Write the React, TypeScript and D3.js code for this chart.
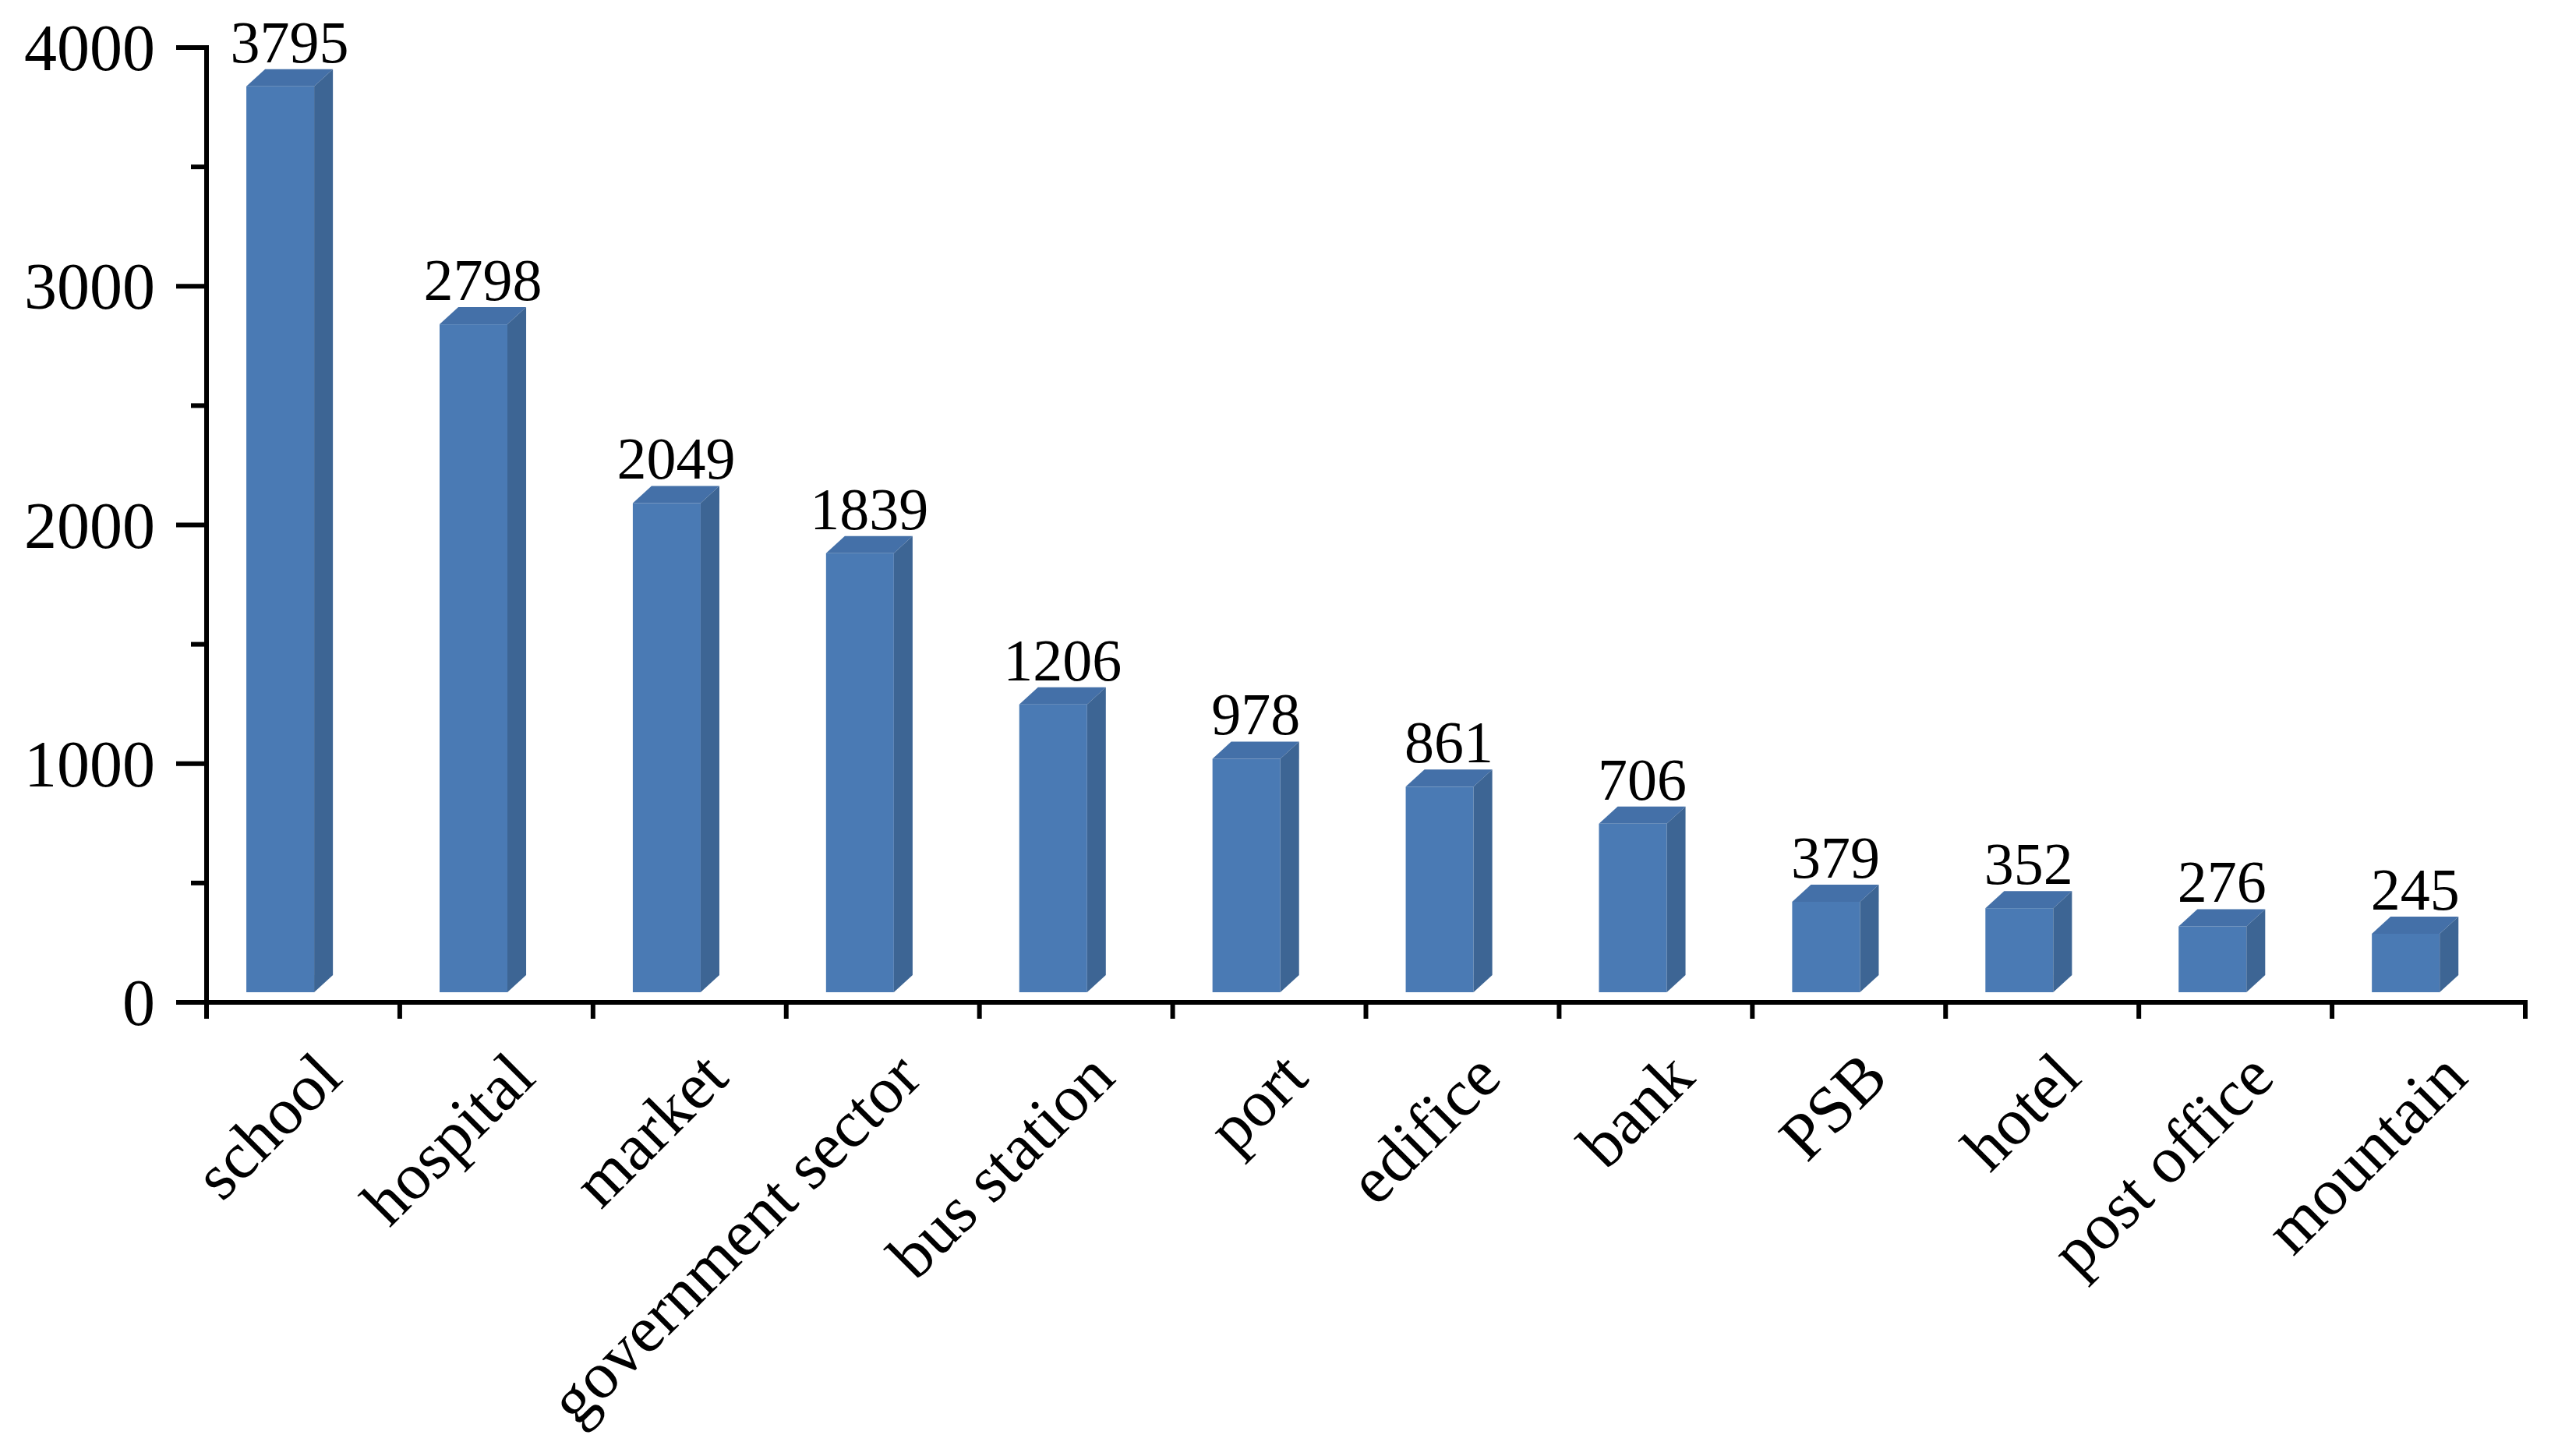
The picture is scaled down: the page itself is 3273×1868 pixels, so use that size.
import { useRef, useEffect } from 'react';
import * as d3 from 'd3';

const categories = [
  'school', 'hospital', 'market', 'government sector', 'bus station', 'port',
  'edifice', 'bank', 'PSB', 'hotel', 'post office', 'mountain',
];
const counts = [3795, 2798, 2049, 1839, 1206, 978, 861, 706, 379, 352, 276, 245];
const yTicks = [0, 1000, 2000, 3000, 4000];
const yMinorTicks = [500, 1500, 2500, 3500];

const W = 3273;
const H = 1868;

const App = () => {
  const svgRef = useRef<SVGSVGElement>(null);

  useEffect(() => {
    document.body.style.margin = '0';

    const svg = d3.select(svgRef.current)
      .attr('width', W)
      .attr('height', H);

    svg.selectAll('*').remove();

    const font = '"Liberation Serif", "Times New Roman", serif';
    const axisLeft = 265;
    const axisRight = 3240;

    const xScale = d3.scaleBand()
      .domain(categories)
      .range([axisLeft, axisRight])
      .padding(0);

    const yScale = d3.scaleLinear()
      .domain([0, 4000])
      .range([1286, 61]);

    const bw = xScale.bandwidth();
    const faceOffset = bw * 0.206;
    const faceWidth = bw * 0.351;
    const depthX = bw * 0.097;
    const depthY = 22;
    const lift = 13; // bars float slightly above the axis line

    const data = categories.map((c, i) => ({ category: c, value: counts[i] }));

    // bars drawn as simple 3D boxes: front, top and side faces
    const bars = svg.append('g')
      .selectAll('g')
      .data(data)
      .enter()
      .append('g');

    bars.append('rect')
      .attr('x', d => (xScale(d.category) as number) + faceOffset)
      .attr('y', d => yScale(d.value) - lift)
      .attr('width', faceWidth)
      .attr('height', d => yScale(0) - yScale(d.value))
      .attr('fill', '#4a7ab4');

    bars.append('path')
      .attr('d', d => {
        const x0 = (xScale(d.category) as number) + faceOffset;
        const x1 = x0 + faceWidth;
        const yt = yScale(d.value) - lift;
        return `M${x0},${yt}L${x0 + depthX},${yt - depthY}L${x1 + depthX},${yt - depthY}L${x1},${yt}Z`;
      })
      .attr('fill', '#4470a8');

    bars.append('path')
      .attr('d', d => {
        const x1 = (xScale(d.category) as number) + faceOffset + faceWidth;
        const yt = yScale(d.value) - lift;
        const yb = yScale(0) - lift;
        return `M${x1},${yt}L${x1 + depthX},${yt - depthY}L${x1 + depthX},${yb - depthY}L${x1},${yb}Z`;
      })
      .attr('fill', '#3d6594');

    // value labels
    svg.append('g')
      .selectAll('text')
      .data(data)
      .enter()
      .append('text')
      .attr('x', d => (xScale(d.category) as number) + faceOffset + (faceWidth + depthX) / 2)
      .attr('y', d => yScale(d.value) - lift - depthY - 9)
      .attr('text-anchor', 'middle')
      .attr('font-family', font)
      .attr('font-size', 76)
      .attr('fill', '#000')
      .text(d => d.value);

    const axisColor = '#000';
    const sw = 6;

    // y axis
    svg.append('line')
      .attr('x1', axisLeft).attr('x2', axisLeft)
      .attr('y1', yScale(4000) - 3).attr('y2', yScale(0) + 21)
      .attr('stroke', axisColor).attr('stroke-width', sw);

    svg.append('g')
      .selectAll('line')
      .data(yTicks)
      .enter()
      .append('line')
      .attr('x1', axisLeft - 39).attr('x2', axisLeft)
      .attr('y1', d => yScale(d)).attr('y2', d => yScale(d))
      .attr('stroke', axisColor).attr('stroke-width', sw);

    svg.append('g')
      .selectAll('line')
      .data(yMinorTicks)
      .enter()
      .append('line')
      .attr('x1', axisLeft - 20).attr('x2', axisLeft)
      .attr('y1', d => yScale(d)).attr('y2', d => yScale(d))
      .attr('stroke', axisColor).attr('stroke-width', sw);

    svg.append('g')
      .selectAll('text')
      .data(yTicks)
      .enter()
      .append('text')
      .attr('x', axisLeft - 66)
      .attr('y', d => yScale(d) + 29)
      .attr('text-anchor', 'end')
      .attr('font-family', font)
      .attr('font-size', 84)
      .attr('fill', '#000')
      .text(d => d);

    // x axis
    svg.append('line')
      .attr('x1', axisLeft - 39).attr('x2', axisRight + 3)
      .attr('y1', yScale(0)).attr('y2', yScale(0))
      .attr('stroke', axisColor).attr('stroke-width', sw);

    const xTickPos = categories.map(c => (xScale(c) as number) + bw);
    svg.append('g')
      .selectAll('line')
      .data(xTickPos)
      .enter()
      .append('line')
      .attr('x1', d => d).attr('x2', d => d)
      .attr('y1', yScale(0)).attr('y2', yScale(0) + 21)
      .attr('stroke', axisColor).attr('stroke-width', sw);

    // rotated category labels
    svg.append('g')
      .selectAll('text')
      .data(categories)
      .enter()
      .append('text')
      .attr('transform', c => {
        const cx = (xScale(c) as number) + bw / 2 + 53;
        const cy = yScale(0) + 100;
        return `translate(${cx},${cy}) rotate(-45)`;
      })
      .attr('text-anchor', 'end')
      .attr('font-family', font)
      .attr('font-size', 85)
      .attr('fill', '#000')
      .text(c => c);
  }, []);

  return <svg ref={svgRef} style={{ display: 'block', background: '#fff' }}></svg>;
};

export default App;
